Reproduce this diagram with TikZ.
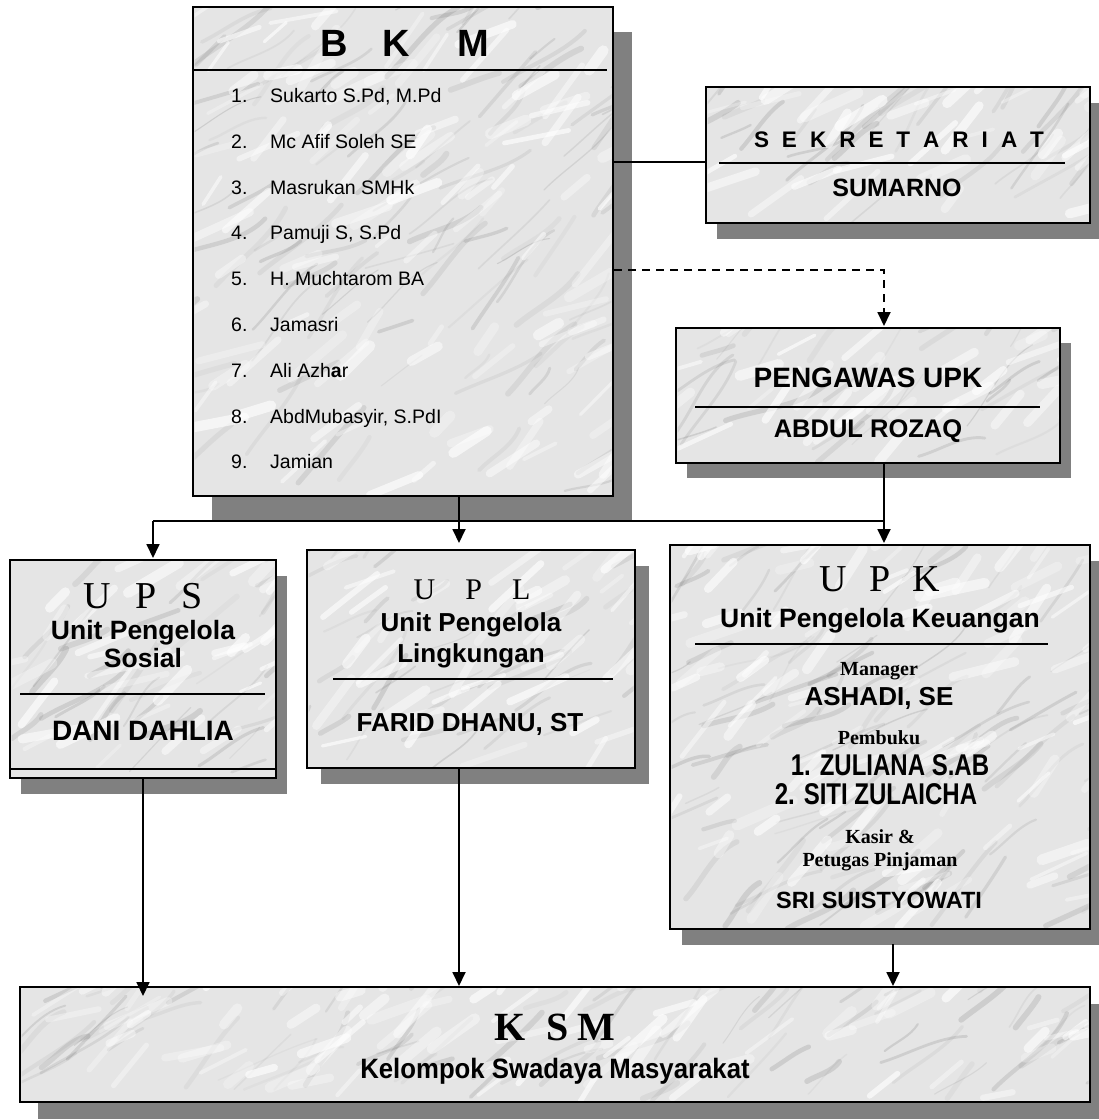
\documentclass[tikz,border=0pt]{standalone}
\usepackage{fontspec}
\usetikzlibrary{arrows.meta,shadows,calc}
\newfontfamily\fA{Liberation Sans}
\newfontfamily\fT{Liberation Serif}
\newfontfamily\fN[FakeStretch=0.8]{Liberation Sans}
\newfontfamily\fK[FakeStretch=0.92]{Liberation Sans}
\newcommand{\fsz}[1]{\fontsize{#1}{#1}\selectfont}
\newcommand{\gp}[1]{\hspace{#1pt}}
\newcommand{\veins}[5]{%
  \begin{scope}
  \clip (#1+1.5,#2+1.5) rectangle (#3-1.5,#4-1.5);
  \foreach \k in {1,...,#5}{
    \pgfmathsetmacro{\vx}{#1-30+rnd*(#3-#1+60)}
    \pgfmathsetmacro{\vy}{#2+rnd*(#4-#2)}
    \pgfmathsetmacro{\vl}{30+rnd*80}
    \pgfmathsetmacro{\va}{-(15+rnd*45)}
    \pgfmathsetmacro{\vb}{\va+(rnd-0.5)*50}
    \pgfmathsetmacro{\vw}{1+rnd*5}
    \pgfmathsetmacro{\vo}{0.04+rnd*0.12}
    \draw[black!70, line width=\vw pt, opacity=\vo, line cap=round]
      (\vx,\vy) .. controls +(\va:\vl/3) and +(\vb:-\vl/3) .. ++(\va:\vl);
  }
  \foreach \k in {1,...,#5}{
    \pgfmathsetmacro{\vx}{#1-20+rnd*(#3-#1+40)}
    \pgfmathsetmacro{\vy}{#2+rnd*(#4-#2)}
    \pgfmathsetmacro{\vl}{20+rnd*50}
    \pgfmathsetmacro{\va}{-(10+rnd*50)}
    \pgfmathsetmacro{\vw}{3+rnd*8}
    \pgfmathsetmacro{\vo}{0.25+rnd*0.4}
    \draw[white, line width=\vw pt, opacity=\vo, line cap=round] (\vx,\vy) -- ++(\va:\vl);
  }
  \end{scope}}
\begin{document}
\begin{tikzpicture}[x=1pt,y=-1pt,
  box/.style={draw=black, line width=2pt, fill=black!10, inner sep=0pt},
  shd/.style 2 args={drop shadow={shadow xshift=#1pt, shadow yshift=-#2pt, fill=black!50, opacity=1}},
  txt/.style={inner sep=0pt, anchor=base},
  div/.style={line width=1.5pt},
  conn/.style={line width=1.8pt},
  arr/.style={line width=1.8pt, -{Triangle[length=14pt,width=13pt]}},
  dsh/.style={line width=1.8pt, dash pattern=on 8pt off 6pt, -{Triangle[length=14pt,width=13pt]}}]
\pgfmathsetseed{11}
\useasboundingbox (0,0) rectangle (1099,1120);

% boxes
\node[box, minimum width=420pt, minimum height=489pt, shd={19}{25}] (bkm) at (403,251.5) {};
\node[box, minimum width=384pt, minimum height=136pt, shd={11}{16}] (sek) at (898,155) {};
\node[box, minimum width=384pt, minimum height=135pt, shd={11}{15}] (pg) at (868,395.5) {};
\node[box, minimum width=266pt, minimum height=218pt, shd={11}{16}] (ups) at (143,669) {};
\node[box, minimum width=328pt, minimum height=218pt, shd={14}{16}] (upl) at (471,659) {};
\node[box, minimum width=420pt, minimum height=384pt, shd={12}{16}] (upk) at (880,737) {};
\node[box, minimum width=1070pt, minimum height=115pt, shd={18}{17}] (ksm) at (555,1044.5) {};

% marble texture
\veins{193}{7}{613}{496}{110}
\veins{706}{87}{1090}{223}{35}
\veins{676}{328}{1060}{463}{35}
\veins{10}{560}{276}{778}{40}
\veins{307}{550}{635}{768}{45}
\veins{670}{545}{1090}{929}{100}
\veins{20}{987}{1090}{1102}{80}

% dividers
\draw[div] (193,70) -- (607,70);
\draw[div] (719,163) -- (1065,163);
\draw[div] (695,407) -- (1040,407);
\draw[div] (20,694) -- (265,694);
\draw[div] (10,769) -- (276,769);
\draw[div] (333,679) -- (613,679);
\draw[div] (695,644) -- (1048,644);

% BKM
\node[txt, anchor=base west, font=\fA\bfseries\fsz{38}] (bkmT) at (320,56) {B\gp{35}K\gp{47}M};
\begin{scope}[every node/.style={txt, anchor=base west, font=\fA\fsz{19.5}}]
\node (n1) at (231,102) {1.}; \node (m1) at (270,102) {Sukarto S.Pd, M.Pd};
\node (n2) at (231,148) {2.}; \node (m2) at (270,148) {Mc Afif Soleh SE};
\node (n3) at (231,194) {3.}; \node (m3) at (270,194) {Masrukan SMHk};
\node (n4) at (231,239) {4.}; \node (m4) at (270,239) {Pamuji S, S.Pd};
\node (n5) at (231,285) {5.}; \node (m5) at (270,285) {H. Muchtarom BA};
\node (n6) at (231,331) {6.}; \node (m6) at (270,331) {Jamasri};
\node (n7) at (231,377) {7.}; \node (m7) at (270,377) {Ali Azh\textbf{a}r};
\node (n8) at (231,423) {8.}; \node (m8) at (270,423) {AbdMubasyir, S.PdI};
\node (n9) at (231,468) {9.}; \node (m9) at (270,468) {Jamian};
\end{scope}

% SEKRETARIAT
\node[txt, font=\fA\bfseries\fsz{22.5}] (sekT) at (899,147) {S\gp{13}E\gp{13}K\gp{13}R\gp{13}E\gp{13}T\gp{13}A\gp{13}R\gp{13}I\gp{13}A\gp{13}T};
\node[txt, font=\fA\bfseries\fsz{25}] (sekN) at (897,196) {SUMARNO};

% PENGAWAS
\node[txt, font=\fA\bfseries\fsz{28}] (pgT) at (868,387) {PENGAWAS UPK};
\node[txt, font=\fA\bfseries\fsz{25.5}] (pgN) at (868,437) {ABDUL ROZAQ};

% UPS
\node[txt, font=\fT\fsz{38}] (upsT) at (143,608) {U\gp{25}P\gp{25}S};
\node[txt, font=\fA\bfseries\fsz{26.5}] (upsA) at (143,639) {Unit Pengelola};
\node[txt, font=\fA\bfseries\fsz{26.5}] (upsB) at (143,667) {Sosial};
\node[txt, font=\fA\bfseries\fsz{28}] (upsN) at (143,740) {DANI DAHLIA};

% UPL
\node[txt, font=\fT\fsz{30}] (uplT) at (472,599) {U\gp{30}P\gp{30}L};
\node[txt, font=\fA\bfseries\fsz{26}] (uplA) at (471,631) {Unit Pengelola};
\node[txt, font=\fA\bfseries\fsz{26}] (uplB) at (471,662) {Lingkungan};
\node[txt, font=\fA\bfseries\fsz{26}] (uplN) at (470,731) {FARID DHANU, ST};

% UPK
\node[txt, font=\fT\fsz{38}] (upkT) at (880,591.5) {U\gp{22}P\gp{22}K};
\node[txt, font=\fA\bfseries\fsz{26.5}] (upkA) at (880,627.5) {Unit Pengelola Keuangan};
\node[txt, font=\fT\bfseries\fsz{20}] (upkM) at (879,675) {Manager};
\node[txt, font=\fA\bfseries\fsz{26}] (upkMN) at (879,705) {ASHADI, SE};
\node[txt, font=\fT\bfseries\fsz{20}] (upkP) at (879,744) {Pembuku};
\node[txt, font=\fN\bfseries\fsz{30}] (upkP1) at (890,775) {1. ZULIANA S.AB};
\node[txt, font=\fN\bfseries\fsz{30}] (upkP2) at (876,804) {2. SITI ZULAICHA};
\node[txt, font=\fT\bfseries\fsz{20}] (upkK1) at (880,843.5) {Kasir \&};
\node[txt, font=\fT\bfseries\fsz{20}] (upkK2) at (880,866) {Petugas Pinjaman};
\node[txt, font=\fA\bfseries\fsz{23.5}] (upkKN) at (879,908) {SRI SUISTYOWATI};

% KSM
\node[txt, font=\fT\bfseries\fsz{40}] (ksmT) at (555,1040) {K\gp{20}S\gp{9}M};
\node[txt, font=\fK\bfseries\fsz{28}] (ksmA) at (555,1078) {Kelompok Swadaya Masyarakat};

% connectors
\coordinate (yS) at (0,162);
\coordinate (dj) at (884,270);
\coordinate (jl) at (153,521);
\coordinate (jx) at (884,521);
\coordinate (pgb) at ([xshift=16pt]pg.south);
\coordinate (bb) at ([xshift=56pt]bkm.south);
\coordinate (ulb) at ([xshift=-12pt]upl.south);
\coordinate (ukb) at ([xshift=13pt,yshift=-14pt]upk.south);

\draw[conn] (bkm.east |- yS) -- (sek.west |- yS);
\draw[dsh] (bkm.east |- dj) -- (dj) -- ([yshift=1pt]dj |- pg.north);
\draw[arr] (pgb) -- ([yshift=1pt]jx |- upk.north);
\draw[conn] (jx) -- (jl);
\draw[arr] (jl) -- ([yshift=1pt]jl |- ups.north);
\draw[arr, shorten >=6pt] (bb) -- (bb |- upl.north);
\draw[arr, shorten >=-10pt] (ups.south) -- (ups.south |- ksm.north);
\draw[arr] (ulb) -- (ulb |- ksm.north);
\draw[arr] (ukb) -- (ukb |- ksm.north);
\end{tikzpicture}
\end{document}
